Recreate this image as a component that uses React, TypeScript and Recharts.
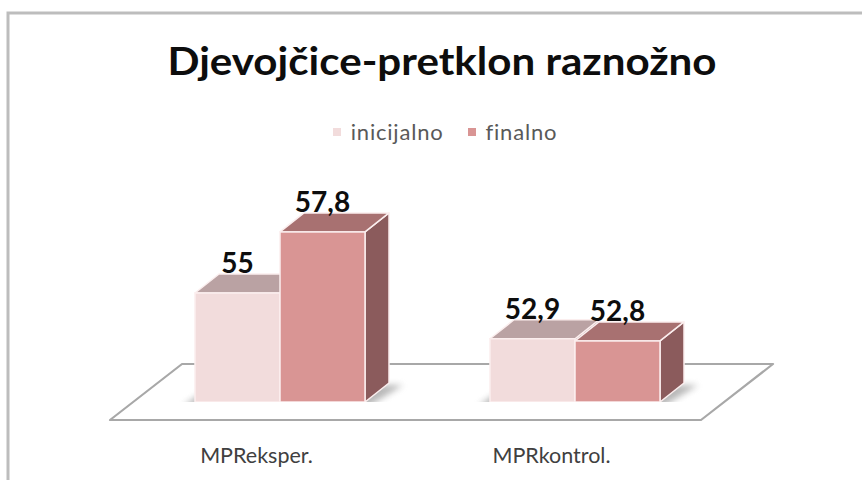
import React from "react";
import { BarChart, Bar, XAxis, YAxis, Legend, LabelList } from "recharts";

const categories = ["MPReksper.", "MPRkontrol."];
const inicijalno = [55, 52.9];
const finalno = [57.8, 52.8];
const seriesNames = ["inicijalno", "finalno"];
const yDomain = [50, 60];
const title = "Djevojčice-pretklon raznožno";

const data = categories.map((name, i) => ({
  name,
  inicijalno: inicijalno[i],
  finalno: finalno[i],
}));

const W = 862;
const H = 480;
const MARGIN = { top: 154, right: 140, bottom: 0, left: 132 };
const XAXIS_H = 78;
const LEGEND_H = 30;
const PLOT_BOTTOM = H - MARGIN.bottom - XAXIS_H;
const PLOT_LEFT = MARGIN.left;
const PLOT_RIGHT = W - MARGIN.right;

const DX = 24;
const DY = 19;
const FONT = "Lato, 'Open Sans', sans-serif";

const COLORS = {
  inicijalno: { front: "#f2dcdc", top: "#baa2a3", side: "#a08586" },
  finalno: { front: "#d99594", top: "#a87171", side: "#8b5b5c" },
};
const EDGE = "#fbeeee";

function Prism(props: any) {
  const { x, y, width, height, colors, shadow } = props;
  if (x == null || width == null) return null;
  const b = y + height;
  const sideP = `${x + width},${y} ${x + width + DX},${y - DY} ${x + width + DX},${b - DY} ${x + width},${b}`;
  const topP = `${x},${y} ${x + DX},${y - DY} ${x + width + DX},${y - DY} ${x + width},${y}`;
  const sh = shadow
    ? `${x - 12},${b + 4} ${x + 2 * width + 4},${b + 4} ${x + 2 * width + DX + 14},${b - DY + 2} ${x + DX - 6},${b - DY + 2}`
    : null;
  return (
    <g>
      {sh && <polygon points={sh} fill="#7f7f7f" opacity={0.55} filter="url(#shblur)" />}
      <polygon points={sideP} fill={colors.side} stroke={EDGE} strokeWidth={1.5} strokeLinejoin="round" />
      <polygon points={topP} fill={colors.top} stroke={EDGE} strokeWidth={1.5} strokeLinejoin="round" />
      <rect x={x} y={y} width={width} height={height} fill={colors.front} stroke={EDGE} strokeWidth={1.5} />
    </g>
  );
}

function ValueLabel(props: any) {
  const { x, y, width, value } = props;
  return (
    <text
      x={x + width / 2}
      y={y - DY - 1}
      textAnchor="middle"
      fontFamily={FONT}
      fontWeight={700}
      fontSize={28}
      fill="#0d0d0d"
    >
      {String(value).replace(".", ",")}
    </text>
  );
}

function CategoryTick(props: any) {
  const { x, payload } = props;
  return (
    <text
      x={x - 23}
      y={PLOT_BOTTOM + 61}
      textAnchor="middle"
      fontFamily={FONT}
      fontSize={21.5}
      fill="#404040"
    >
      {payload.value}
    </text>
  );
}

function LegendContent() {
  return (
    <div
      style={{
        display: "flex",
        justifyContent: "center",
        alignItems: "center",
        fontFamily: FONT,
        fontSize: 22,
        letterSpacing: 0.8,
        color: "#595959",
        paddingLeft: 28,
      }}
    >
      {seriesNames.map((s, i) => (
        <div key={s} style={{ display: "flex", alignItems: "center", marginLeft: i ? 24 : 0 }}>
          <span
            style={{
              display: "inline-block",
              width: 8,
              height: 8,
              background: (COLORS as any)[s].front,
              marginRight: 10,
            }}
          />
          <span>{s}</span>
        </div>
      ))}
    </div>
  );
}

function Underlay() {
  const fl = PLOT_LEFT - 22;
  const fr = PLOT_RIGHT - 21;
  const fy = PLOT_BOTTOM + 18;
  const by = PLOT_BOTTOM - 38;
  const floor = `${fl},${fy} ${fr},${fy} ${fr + 72},${by} ${fl + 72},${by}`;
  return (
    <svg width={W} height={H} style={{ position: "absolute", left: 0, top: 0 }}>
      <rect x={0} y={0} width={W} height={H} fill="#ffffff" />
      <polyline points={`8,${H} 8,13 ${W},13`} fill="none" stroke="#bdbdbd" strokeWidth={3} />
      <text
        x={442}
        y={75}
        textAnchor="middle"
        fontFamily={FONT}
        fontWeight={700}
        fontSize={39}
        fill="#0d0d0d"
        textLength={549}
        lengthAdjust="spacingAndGlyphs"
      >
        {title}
      </text>
      <polygon points={floor} fill="#ffffff" stroke="#a8a8a8" strokeWidth={2.2} strokeLinejoin="round" />
    </svg>
  );
}

export default function App() {
  return (
    <div style={{ position: "absolute", left: 0, top: 0, width: W, height: H }}>
      <Underlay />
      <div style={{ position: "absolute", left: 0, top: 0 }}>
        <BarChart width={W} height={H} data={data} margin={MARGIN} barGap={0} barSize={85}>
          <defs>
            <filter id="shblur" x="-20%" y="-50%" width="140%" height="200%">
              <feGaussianBlur stdDeviation={3} />
            </filter>
          </defs>
          <Legend
            verticalAlign="top"
            height={LEGEND_H}
            content={<LegendContent />}
            wrapperStyle={{ top: 118, left: 0, width: W }}
          />
          <XAxis
            dataKey="name"
            axisLine={false}
            tickLine={false}
            height={XAXIS_H}
            tick={<CategoryTick />}
            interval={0}
          />
          <YAxis hide domain={yDomain} type="number" allowDataOverflow />
          <Bar
            dataKey="inicijalno"
            isAnimationActive={false}
            shape={(p: any) => <Prism {...p} colors={COLORS.inicijalno} shadow />}
          >
            <LabelList dataKey="inicijalno" content={<ValueLabel />} />
          </Bar>
          <Bar
            dataKey="finalno"
            isAnimationActive={false}
            shape={(p: any) => <Prism {...p} colors={COLORS.finalno} />}
          >
            <LabelList dataKey="finalno" content={<ValueLabel />} />
          </Bar>
        </BarChart>
      </div>
    </div>
  );
}
